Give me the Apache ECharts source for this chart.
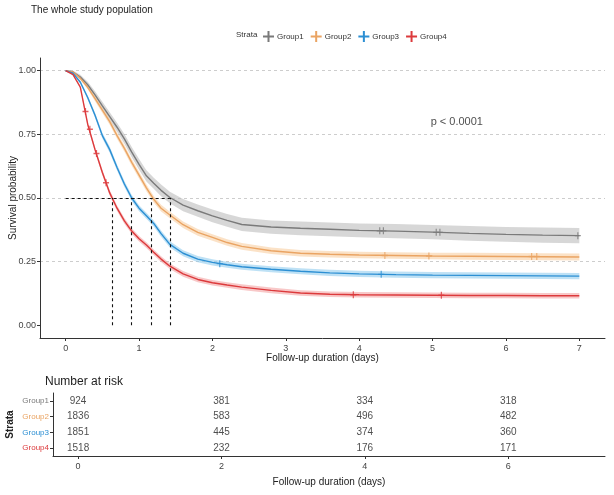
<!DOCTYPE html>
<html>
<head>
<meta charset="utf-8">
<script src="https://cdn.jsdelivr.net/npm/echarts@6/dist/echarts.min.js"></script>
<style>html,body{margin:0;padding:0;background:#fff}#c{width:614px;height:495px}</style>
</head>
<body>
<div id="c"></div>
<script>
// ---- data ----
const groups = ['Group1', 'Group2', 'Group3', 'Group4'];
const times = [0, 0.1, 0.2, 0.3, 0.4, 0.5, 0.6, 0.7, 0.8, 0.9, 1.0, 1.1, 1.2, 1.3, 1.42, 1.6, 1.8, 2.0, 2.2, 2.4, 2.8, 3.2, 3.6, 4.0, 4.5, 5.0, 5.5, 6.0, 6.5, 7.0];
const survGroup1 = [1, 0.995, 0.975, 0.945, 0.905, 0.862, 0.82, 0.778, 0.732, 0.68, 0.632, 0.587, 0.558, 0.53, 0.502, 0.472, 0.45, 0.43, 0.412, 0.396, 0.386, 0.381, 0.377, 0.373, 0.37, 0.366, 0.361, 0.357, 0.354, 0.352];
const survGroup2 = [1, 0.995, 0.97, 0.935, 0.89, 0.845, 0.80, 0.745, 0.695, 0.64, 0.59, 0.54, 0.495, 0.46, 0.433, 0.395, 0.365, 0.345, 0.325, 0.31, 0.293, 0.283, 0.279, 0.276, 0.274, 0.272, 0.271, 0.27, 0.269, 0.268];
const survGroup3 = [1, 0.99, 0.955, 0.895, 0.825, 0.745, 0.69, 0.62, 0.555, 0.50, 0.46, 0.43, 0.40, 0.36, 0.318, 0.283, 0.26, 0.247, 0.238, 0.23, 0.22, 0.212, 0.206, 0.202, 0.199, 0.197, 0.196, 0.195, 0.194, 0.193];
const survGroup4 = [1, 0.985, 0.935, 0.79, 0.69, 0.60, 0.52, 0.46, 0.41, 0.37, 0.34, 0.315, 0.287, 0.26, 0.232, 0.202, 0.18, 0.167, 0.158, 0.15, 0.137, 0.127, 0.122, 0.12, 0.119, 0.118, 0.117, 0.117, 0.116, 0.116];
const ciGroup1 = [0, 0.005, 0.009, 0.012, 0.014, 0.016, 0.017, 0.018, 0.019, 0.02, 0.021, 0.022, 0.022, 0.023, 0.023, 0.024, 0.024, 0.025, 0.025, 0.026, 0.026, 0.027, 0.027, 0.027, 0.028, 0.028, 0.029, 0.029, 0.03, 0.03];
const ciGroup2 = [0, 0.003, 0.006, 0.008, 0.01, 0.011, 0.012, 0.012, 0.013, 0.013, 0.013, 0.013, 0.013, 0.013, 0.013, 0.013, 0.013, 0.013, 0.013, 0.013, 0.013, 0.013, 0.013, 0.013, 0.013, 0.013, 0.014, 0.014, 0.014, 0.014];
const ciGroup3 = [0, 0.003, 0.006, 0.008, 0.01, 0.011, 0.012, 0.012, 0.012, 0.012, 0.012, 0.012, 0.012, 0.012, 0.012, 0.012, 0.012, 0.012, 0.012, 0.012, 0.012, 0.012, 0.012, 0.012, 0.012, 0.012, 0.012, 0.012, 0.012, 0.012];
const ciGroup4 = [0, 0.003, 0.006, 0.009, 0.01, 0.011, 0.011, 0.011, 0.011, 0.011, 0.011, 0.011, 0.011, 0.011, 0.011, 0.011, 0.011, 0.011, 0.011, 0.011, 0.011, 0.011, 0.011, 0.011, 0.011, 0.011, 0.011, 0.011, 0.011, 0.011];
const censorGroup1 = [[4.28, 0.371], [4.33, 0.371], [5.05, 0.365], [5.10, 0.365], [6.98, 0.352]];
const censorGroup2 = [[4.35, 0.274], [4.95, 0.272], [6.35, 0.27], [6.42, 0.27]];
const censorGroup3 = [[2.1, 0.242], [4.3, 0.2]];
const censorGroup4 = [[0.27, 0.84], [0.33, 0.77], [0.42, 0.675], [0.55, 0.56], [3.92, 0.12], [5.12, 0.118]];
const medians = [0.63, 0.89, 1.17, 1.42];
const refLevels = [0.25, 0.5, 0.75, 1.0];
const xTicks = [0, 1, 2, 3, 4, 5, 6, 7];
const yTicks = [0, 0.25, 0.5, 0.75, 1.0];
const riskTimes = [0, 2, 4, 6];
const riskGroup1 = [924, 381, 334, 318];
const riskGroup2 = [1836, 583, 496, 482];
const riskGroup3 = [1851, 445, 374, 360];
const riskGroup4 = [1518, 232, 176, 171];
const pText = 'p < 0.0001';
const pPos = [5.33, 0.80];

// ---- styling ----
const lineColors = ['#7a7a7a', '#eaa463', '#2c8fd3', '#dc3a3c'];
const bandColors = ['#bdbdbd', '#f8cfa2', '#92cdef', '#f3a3a3'];
const FONT = 'Liberation Sans, Arial, sans-serif';

const surv = [survGroup1, survGroup2, survGroup3, survGroup4];
const cis = [ciGroup1, ciGroup2, ciGroup3, ciGroup4];
const censors = [censorGroup1, censorGroup2, censorGroup3, censorGroup4];
const risks = [riskGroup1, riskGroup2, riskGroup3, riskGroup4];

const series = [];
// confidence bands
groups.forEach((g, gi) => {
  series.push({
    type: 'custom', name: g + ' CI', xAxisIndex: 0, yAxisIndex: 0, z: 1, silent: true,
    data: [[0, 1]], encode: { x: 0, y: 1 }, clip: true,
    renderItem: function (params, api) {
      const pts = [];
      for (let i = 0; i < times.length; i++) pts.push(api.coord([times[i], surv[gi][i] + cis[gi][i]]));
      for (let i = times.length - 1; i >= 0; i--) pts.push(api.coord([times[i], surv[gi][i] - cis[gi][i]]));
      return { type: 'polygon', shape: { points: pts }, style: { fill: bandColors[gi], opacity: 0.6 } };
    }
  });
});
// survival lines
groups.forEach((g, gi) => {
  const s = {
    type: 'line', name: g, xAxisIndex: 0, yAxisIndex: 0, z: 3,
    data: times.map((t, i) => [t, surv[gi][i]]),
    showSymbol: false, symbol: 'none',
    lineStyle: { color: lineColors[gi], width: 1.4 },
    itemStyle: { color: lineColors[gi] },
    emphasis: { disabled: true }
  };
  if (gi === 0) {
    s.markLine = {
      silent: true, symbol: 'none', z: 0, label: { show: false },
      lineStyle: { color: '#c8c8c8', type: [3, 3], width: 0.9 },
      data: refLevels.map(v => ({ yAxis: v }))
    };
  }
  if (gi === 1) {
    const ml = [[{ coord: [0, 0.5] }, { coord: [Math.max(...medians), 0.5] }]];
    medians.forEach(m => ml.push([{ coord: [m, 0] }, { coord: [m, 0.5] }]));
    s.markLine = {
      silent: true, symbol: 'none', z: 4, label: { show: false },
      lineStyle: { color: '#111', type: [3, 3], width: 1.1 },
      data: ml
    };
  }
  series.push(s);
});
// censor marks
groups.forEach((g, gi) => {
  series.push({
    type: 'scatter', xAxisIndex: 0, yAxisIndex: 0, z: 4, silent: true,
    data: censors[gi],
    symbol: 'path://M4,0h2v10h-2z M0,4h10v2h-10z', symbolSize: [6, 7],
    itemStyle: { color: lineColors[gi] }
  });
});
// p-value text
series.push({
  type: 'scatter', xAxisIndex: 0, yAxisIndex: 0, silent: true, z: 5,
  data: [pPos], symbolSize: 1, itemStyle: { color: 'rgba(0,0,0,0)' },
  label: { show: true, position: 'inside', formatter: pText, color: '#222', fontSize: 11, fontFamily: FONT }
});
// risk table
groups.forEach((g, gi) => {
  series.push({
    type: 'scatter', xAxisIndex: 1, yAxisIndex: 1, silent: true,
    data: riskTimes.map((t, i) => [t, g, risks[gi][i]]),
    symbolSize: 1, itemStyle: { color: 'rgba(0,0,0,0)' },
    label: { show: true, position: 'inside', formatter: p => String(p.value[2]), color: '#222', fontSize: 10, fontFamily: FONT }
  });
});

const axisCommon = {
  axisLine: { show: true, onZero: false, lineStyle: { color: '#333', width: 1 } },
  splitLine: { show: false },
  nameMoveOverlap: false
};

const chart = echarts.init(document.getElementById('c'), null, { renderer: 'canvas' });
chart.setOption({
  animation: false,
  backgroundColor: '#fff',
  textStyle: { fontFamily: FONT },
  title: {
    text: 'The whole study population', left: 26, top: 0,
    textStyle: { fontSize: 10, fontWeight: 'normal', color: '#222', fontFamily: FONT }
  },
  legend: {
    data: groups, left: 258, top: 26, itemWidth: 11, itemHeight: 11, itemGap: 7,
    icon: 'path://M0,4.5h11v2h-11z M4.5,0h2v11h-2z',
    textStyle: { fontSize: 8, color: '#333', fontFamily: FONT, padding: [0, 0, 0, -2] },
    selectedMode: false
  },
  graphic: [
    { type: 'text', left: 236, top: 31, style: { text: 'Strata', fontSize: 8, fill: '#333', fontFamily: FONT } },
    { type: 'text', left: 45, top: 376, style: { text: 'Number at risk', fontSize: 12, fill: '#222', fontFamily: FONT } }
  ],
  grid: [
    { left: 40, right: 9, top: 58, height: 280, outerBoundsMode: 'none', containLabel: false },
    { left: 53, right: 9, top: 393, height: 63, outerBoundsMode: 'none', containLabel: false }
  ],
  xAxis: [
    Object.assign({}, axisCommon, {
      type: 'value', gridIndex: 0, min: -0.35, max: 7.35,
      axisTick: { show: true, length: 3, customValues: xTicks, lineStyle: { color: '#333' } },
      axisLabel: { customValues: xTicks, fontSize: 9, color: '#444', margin: 6, fontFamily: FONT },
      name: 'Follow-up duration (days)', nameLocation: 'middle', nameGap: 15,
      nameTextStyle: { fontSize: 10, color: '#222', fontFamily: FONT }
    }),
    Object.assign({}, axisCommon, {
      type: 'value', gridIndex: 1, min: -0.35, max: 7.35,
      axisTick: { show: true, length: 3, customValues: riskTimes, lineStyle: { color: '#333' } },
      axisLabel: { customValues: riskTimes, fontSize: 9, color: '#444', margin: 6, fontFamily: FONT },
      name: 'Follow-up duration (days)', nameLocation: 'middle', nameGap: 21,
      nameTextStyle: { fontSize: 10, color: '#222', fontFamily: FONT }
    })
  ],
  yAxis: [
    Object.assign({}, axisCommon, {
      type: 'value', gridIndex: 0, min: -0.05, max: 1.05,
      axisTick: { show: true, length: 3, customValues: yTicks, lineStyle: { color: '#333' } },
      axisLabel: { customValues: yTicks, fontSize: 9, color: '#444', margin: 4, fontFamily: FONT, formatter: v => v.toFixed(2) },
      name: 'Survival probability', nameLocation: 'middle', nameGap: 22,
      nameTextStyle: { fontSize: 10, color: '#222', fontFamily: FONT }
    }),
    Object.assign({}, axisCommon, {
      type: 'category', gridIndex: 1, data: groups, inverse: true,
      axisTick: { show: true, length: 3, alignWithLabel: true, lineStyle: { color: '#333' } },
      axisLabel: { fontSize: 8, margin: 4, fontFamily: FONT, color: (v, i) => lineColors[groups.indexOf(v)] },
      name: 'Strata', nameLocation: 'middle', nameGap: 38,
      nameTextStyle: { fontSize: 10, color: '#222', fontWeight: 'bold', fontFamily: FONT }
    })
  ],
  series: series
});
</script>
</body>
</html>
